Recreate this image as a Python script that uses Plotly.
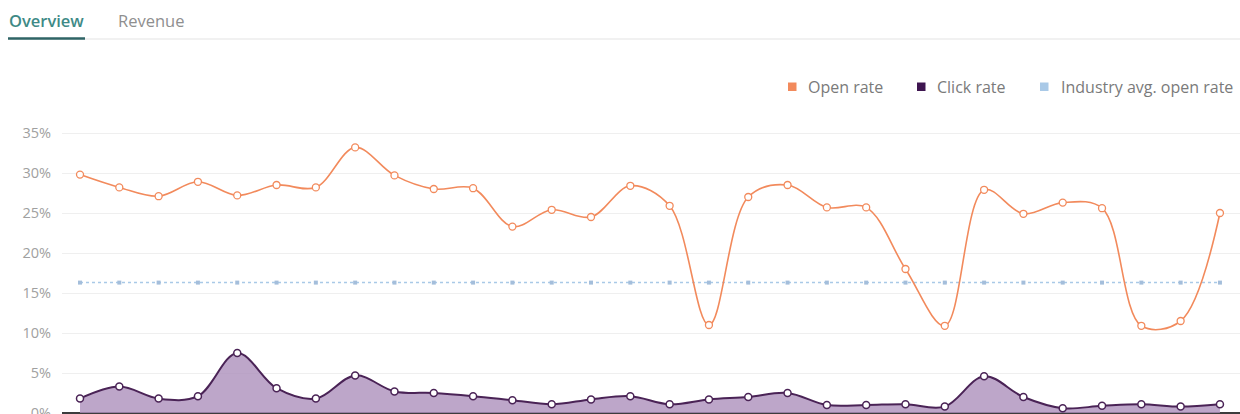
import plotly.graph_objects as go

# ---- data ----
campaigns = list(range(1, 31))
open_rate = [29.8, 28.2, 27.1, 28.9, 27.2, 28.5, 28.2, 33.2, 29.7, 28.0,
             28.1, 23.3, 25.4, 24.5, 28.4, 25.9, 11.0, 27.0, 28.5, 25.7,
             25.7, 18.0, 10.9, 27.9, 24.9, 26.3, 25.6, 10.9, 11.5, 25.0]
click_rate = [1.8, 3.3, 1.8, 2.1, 7.5, 3.1, 1.8, 4.7, 2.7, 2.5,
              2.1, 1.6, 1.1, 1.7, 2.1, 1.1, 1.7, 2.0, 2.5, 1.0,
              1.0, 1.1, 0.8, 4.6, 2.0, 0.6, 0.9, 1.1, 0.8, 1.1]
industry_avg = [16.3] * 30
y_ticks = [0, 5, 10, 15, 20, 25, 30, 35]
y_tick_labels = [f"{v}%" for v in y_ticks]
legend_names = ["Open rate", "Click rate", "Industry avg. open rate"]
tabs = ["Overview", "Revenue"]

ORANGE = "#f28a5c"
PURPLE = "#4a2356"
PURPLE_FILL = "rgba(172,144,187,0.8)"
BLUE = "#a9c9e7"
LEGEND_COLORS = [ORANGE, "#3e1550", "#a9c9e7"]
FONT = "Open Sans"

W, H = 1240, 414
L, R, T, B = 62, 0, 125, 0
PW, PH = W - L - R, H - T - B


def px(x):
    return (x - L) / PW


def py(y):
    return (H - B - y) / PH


fig = go.Figure()

fig.add_trace(go.Scatter(
    x=campaigns, y=industry_avg, mode="lines+markers",
    line=dict(color=BLUE, width=1.5, dash="dot"),
    marker=dict(symbol="square", size=4, color="#a4bedb"),
    hoverinfo="skip", showlegend=False))

fig.add_trace(go.Scatter(
    x=campaigns, y=click_rate, mode="lines+markers",
    line=dict(color=PURPLE, width=2, shape="spline", smoothing=1),
    fill="tozeroy", fillcolor=PURPLE_FILL,
    marker=dict(symbol="circle", size=7, color="white",
                line=dict(color=PURPLE, width=1.5)),
    showlegend=False))

fig.add_trace(go.Scatter(
    x=campaigns, y=open_rate, mode="lines+markers",
    line=dict(color=ORANGE, width=1.6, shape="spline", smoothing=1),
    marker=dict(symbol="circle", size=7, color="white",
                line=dict(color=ORANGE, width=1.3)),
    showlegend=False))

x0 = campaigns[0]
fig.update_xaxes(range=[x0 - 0.458, x0 + 29.51], showgrid=False,
                 showticklabels=False, zeroline=False, showline=False,
                 fixedrange=True, automargin=False)
fig.update_yaxes(range=[-0.125, 36], tickvals=y_ticks, ticktext=y_tick_labels,
                 showgrid=True, gridcolor="#efefef", gridwidth=1,
                 zeroline=True, zerolinecolor="#3c3c3c", zerolinewidth=2,
                 tickfont=dict(family=FONT, size=14.5, color="#a0a0a0"),
                 ticklabelstandoff=10, ticklabeloverflow="allow",
                 automargin=False, showline=False)

shapes = [
    dict(type="line", xref="paper", yref="paper", x0=px(8), x1=px(1240),
         y0=py(39), y1=py(39), line=dict(color="#ececec", width=1.5)),
    dict(type="line", xref="paper", yref="paper", x0=px(8), x1=px(85),
         y0=py(38.5), y1=py(38.5), line=dict(color="#2f6466", width=2.5)),
]
annotations = [
    dict(text=tabs[0], xref="paper", yref="paper", x=px(7), y=py(20),
         xanchor="left", yanchor="middle", showarrow=False,
         font=dict(family=FONT, size=16.5, color="#3e8a86", weight=600)),
    dict(text=tabs[1], xref="paper", yref="paper", x=px(116), y=py(20),
         xanchor="left", yanchor="middle", showarrow=False,
         font=dict(family=FONT, size=16.5, color="#8f8f8f")),
]

leg_sq_x = [788, 917, 1040]
leg_tx_x = [806, 935, 1059]
for name, col, sx, tx in zip(legend_names, LEGEND_COLORS, leg_sq_x, leg_tx_x):
    shapes.append(dict(type="rect", xref="paper", yref="paper",
                       x0=px(sx), x1=px(sx + 8.5), y0=py(91), y1=py(82.5),
                       fillcolor=col, line=dict(width=0)))
    annotations.append(dict(text=name, xref="paper", yref="paper", x=px(tx),
                            y=py(87), xanchor="left", yanchor="middle",
                            showarrow=False,
                            font=dict(family=FONT, size=16, color="#7a7a7a")))

fig.update_layout(
    width=W, height=H, autosize=False,
    margin=dict(l=L, r=R, t=T, b=B, pad=0, autoexpand=False),
    plot_bgcolor="white", paper_bgcolor="white",
    shapes=shapes, annotations=annotations, showlegend=False,
    hovermode="closest",
)

fig.write_html(
    "out.html",
    config={"displayModeBar": False},
    post_script="document.documentElement.style.margin='0';"
                "document.body.style.margin='0';"
                "document.body.style.overflow='hidden';",
)
